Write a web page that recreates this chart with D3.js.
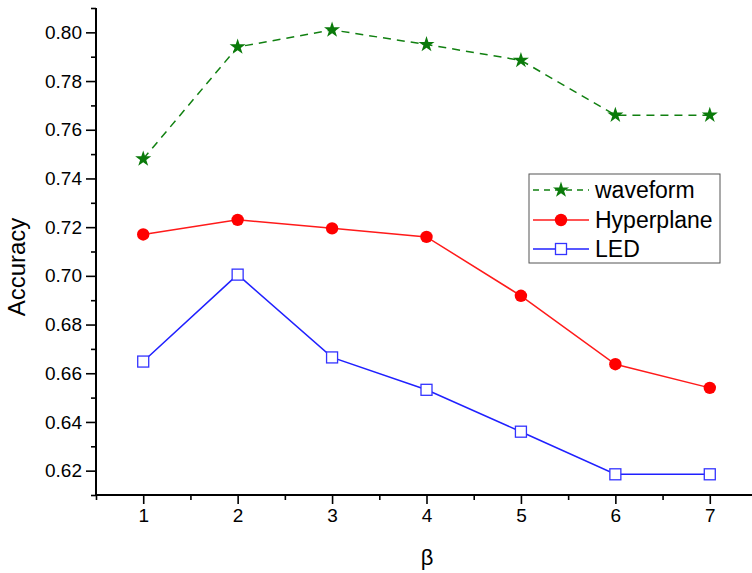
<!DOCTYPE html>
<html><head><meta charset="utf-8">
<script src="https://cdn.jsdelivr.net/npm/d3@7"></script>
<style>body{margin:0;background:#fff}svg{display:block;font-family:Arial,"Liberation Sans",sans-serif}</style>
</head><body>
<svg id="c" width="752" height="573"></svg>
<script>
const betas = [1,2,3,4,5,6,7];
const waveform = [0.748,0.794,0.801,0.795,0.7885,0.766,0.766];
const hyperplane = [0.717,0.723,0.7195,0.716,0.6918,0.6637,0.6540];
const led = [0.6648,0.7005,0.6665,0.6532,0.6360,0.6185,0.6185];
const yTicks = [0.62,0.64,0.66,0.68,0.70,0.72,0.74,0.76,0.78,0.80];
const seriesNames = ["waveform","Hyperplane","LED"];

const svg = d3.select("#c");
const x = d3.scaleLinear().domain([0.5,7.5]).range([96,757]);
const y = d3.scaleLinear().domain([0.61,0.81]).range([495,8]);

// axes
const yAx = svg.append("g").attr("transform","translate(96,0)")
  .call(d3.axisLeft(y).tickValues(yTicks).tickFormat(d3.format(".2f")).tickSize(10).tickPadding(4));
svg.append("g").attr("transform","translate(96,0)")
  .call(d3.axisLeft(y).tickValues(d3.range(0.61,0.8101,0.02)).tickFormat("").tickSize(5))
  .select(".domain").remove();
const xAx = svg.append("g").attr("transform","translate(0,495)")
  .call(d3.axisBottom(x).tickValues(betas).tickFormat(d3.format("d")).tickSize(9).tickPadding(5));
svg.append("g").attr("transform","translate(0,495)")
  .call(d3.axisBottom(x).tickValues(d3.range(0.5,7.6,1)).tickFormat("").tickSize(5))
  .select(".domain").remove();
svg.selectAll(".domain").attr("stroke","#000").attr("stroke-width",2);
svg.selectAll(".tick line").attr("stroke","#000").attr("stroke-width",1.6);
svg.selectAll(".tick text").attr("font-size",19).attr("fill","#000").attr("font-family","Arial, 'Liberation Sans', sans-serif");
yAx.select(".domain").attr("d","M0,8V496");
xAx.select(".domain").attr("d","M95,0H757");

svg.append("text").attr("transform","translate(25,267) rotate(-90)").attr("text-anchor","middle")
  .attr("font-size",24).text("Accuracy");
svg.append("text").attr("x",427).attr("y",565).attr("text-anchor","middle")
  .attr("font-size",22).text("β");

const line = d3.line().x((d,i)=>x(betas[i])).y(d=>y(d));
const star = d3.symbol().type(d3.symbolStar).size(80);

// waveform
svg.append("path").attr("d",line(waveform)).attr("fill","none").attr("stroke","#118011")
  .attr("stroke-width",1.5).attr("stroke-dasharray","8,6");
svg.selectAll(".ws").data(waveform).join("path")
  .attr("d",star).attr("transform",(d,i)=>`translate(${x(betas[i])},${y(d)})`).attr("fill","#0a7a0a");
// hyperplane
svg.append("path").attr("d",line(hyperplane)).attr("fill","none").attr("stroke","#ff1a1a").attr("stroke-width",1.5);
svg.selectAll(".hc").data(hyperplane).join("circle")
  .attr("cx",(d,i)=>x(betas[i])).attr("cy",d=>y(d)).attr("r",6.2).attr("fill","#ff0000");
// led
svg.append("path").attr("d",line(led)).attr("fill","none").attr("stroke","#2020ff").attr("stroke-width",1.5);
svg.selectAll(".lr").data(led).join("rect")
  .attr("x",(d,i)=>x(betas[i])-5.5).attr("y",d=>y(d)-5.5).attr("width",11).attr("height",11)
  .attr("fill","#fff").attr("stroke","#3333ff").attr("stroke-width",1.3);

// legend
const lg = svg.append("g");
lg.append("rect").attr("x",529).attr("y",174).attr("width",191).attr("height",89)
  .attr("fill","#fff").attr("stroke","#555").attr("stroke-width",1);
const ly = [190,220,249];
lg.append("line").attr("x1",533).attr("x2",589).attr("y1",ly[0]).attr("y2",ly[0])
  .attr("stroke","#118011").attr("stroke-width",1.5).attr("stroke-dasharray","6,5");
lg.append("path").attr("d",star).attr("transform",`translate(561,${ly[0]})`).attr("fill","#0a7a0a");
lg.append("line").attr("x1",533).attr("x2",589).attr("y1",ly[1]).attr("y2",ly[1]).attr("stroke","#ff1a1a").attr("stroke-width",1.5);
lg.append("circle").attr("cx",561).attr("cy",ly[1]).attr("r",6.2).attr("fill","#ff0000");
lg.append("line").attr("x1",533).attr("x2",589).attr("y1",ly[2]).attr("y2",ly[2]).attr("stroke","#2020ff").attr("stroke-width",1.5);
lg.append("rect").attr("x",555.5).attr("y",ly[2]-5.5).attr("width",11).attr("height",11)
  .attr("fill","#fff").attr("stroke","#3333ff").attr("stroke-width",1.3);
lg.selectAll(".lt").data(seriesNames).join("text")
  .attr("x",595).attr("y",(d,i)=>ly[i]+8).attr("font-size",23).text(d=>d);
</script>
</body></html>
